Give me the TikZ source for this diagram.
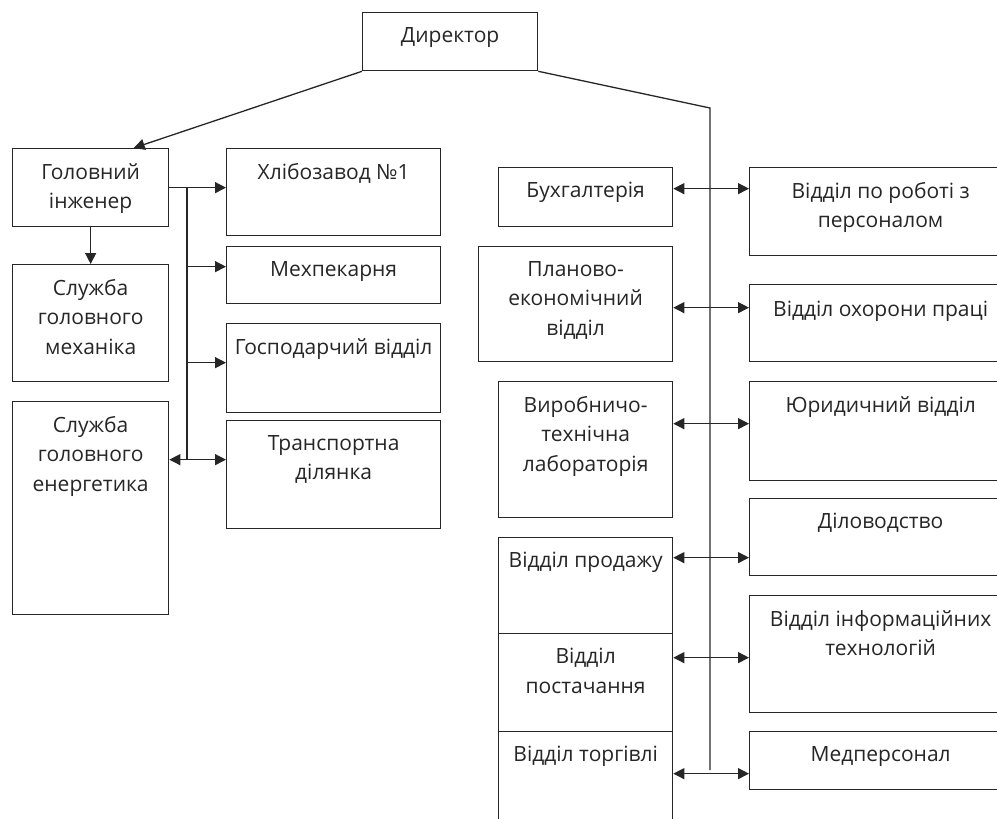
\documentclass[tikz,border=0pt]{standalone}
\usepackage{fontspec}
\setmainfont{Open Sans}
\usetikzlibrary{arrows.meta}
\usetikzlibrary{positioning}

\begin{document}
\begin{tikzpicture}[x=1pt, y=-1pt,
    box/.style={rectangle, draw=black!85, line width=1.3pt, anchor=north west, inner sep=0pt},
    lbl/.style={anchor=north, inner sep=0pt, yshift=-15pt, align=center, text=black!85, font=\fontsize{21}{29.5}\selectfont},
    arr/.style={line width=1.3pt, draw=black!85, -{Triangle[length=11pt,width=11pt]}},
    darr/.style={line width=1.3pt, draw=black!85, {Triangle[length=11pt,width=11pt]}-{Triangle[length=11pt,width=11pt]}},
    bus/.style={line width=1.3pt, draw=black!85}]
    \useasboundingbox (0,0) rectangle (997,819);
    % Define blocks
    \node [box, minimum width=175pt, minimum height=58pt, label={[lbl]north:Директор}] (dir) at (362,12) {};

    \node [box, minimum width=156pt, minimum height=78pt, label={[lbl]north:Головний\\інженер}] (eng) at (12,148) {};
    \node [box, minimum width=156pt, minimum height=117pt, label={[lbl]north:Служба\\головного\\механіка}] (mech) at (12,264) {};
    \node [box, minimum width=156pt, minimum height=213pt, label={[lbl]north:Служба\\головного\\енергетика}] (energ) at (12,401) {};

    \node [box, minimum width=214pt, minimum height=87pt, label={[lbl]north:Хлібозавод №1}] (hlib) at (226,148) {};
    \node [box, minimum width=214pt, minimum height=57pt, label={[lbl]north:Мехпекарня}] (mex) at (226,246) {};
    \node [box, minimum width=214pt, minimum height=89pt, label={[lbl]north:Господарчий відділ}] (gosp) at (226,323) {};
    \node [box, minimum width=214pt, minimum height=108pt, label={[lbl]north:Транспортна\\ділянка}] (trans) at (226,420) {};

    \node [box, minimum width=174pt, minimum height=59pt, label={[lbl]north:Бухгалтерія}] (buh) at (498,167) {};
    \node [box, minimum width=194pt, minimum height=115pt, label={[lbl]north:Планово-\\економічний\\відділ}] (plan) at (478,246) {};
    \node [box, minimum width=174pt, minimum height=136pt, label={[lbl]north:Виробничо-\\технічна\\лабораторія}] (vyr) at (498,381) {};
    \node [box, minimum width=174pt, minimum height=96pt, label={[lbl]north:Відділ продажу}] (prod) at (498,537) {};
    \node [box, minimum width=174pt, minimum height=98pt, label={[lbl]north:Відділ\\постачання}] (post) at (498,633) {};
    \node [box, minimum width=174pt, minimum height=100pt, label={[lbl]north:Відділ торгівлі}] (torg) at (498,731) {};

    \node [box, minimum width=262pt, minimum height=88pt, label={[lbl]north:Відділ по роботі з\\персоналом}] (pers) at (749,167) {};
    \node [box, minimum width=262pt, minimum height=77pt, label={[lbl, yshift=-2pt]north:Відділ охорони праці}] (ohor) at (749,284) {};
    \node [box, minimum width=262pt, minimum height=99pt, label={[lbl]north:Юридичний відділ}] (yur) at (749,381) {};
    \node [box, minimum width=262pt, minimum height=77pt, label={[lbl]north:Діловодство}] (dilo) at (749,498) {};
    \node [box, minimum width=262pt, minimum height=117pt, label={[lbl]north:Відділ інформаційних\\технологій}] (it) at (749,595) {};
    \node [box, minimum width=262pt, minimum height=58pt, label={[lbl]north:Медперсонал}] (med) at (749,731) {};

    \coordinate (lbusT) at (187,187);
    \coordinate (lbusB) at (187,459);
    \coordinate (rbusT) at (710,108);
    \coordinate (rbusB) at (710,770);

    % Define arrows
    \draw [arr] (dir.south west) -- ([xshift=43pt]eng.north);
    \draw [bus] (dir.south east) -- (rbusT) -- (rbusB);

    \draw [arr] (eng.south) -- (mech.north);
    \draw [arr] (eng.east) -- (eng.east -| hlib.west);
    \draw [bus] (lbusT) -- (lbusB);
    \draw [arr] ([yshift=8.5pt]mex.west -| lbusT) -- ([yshift=8.5pt]mex.west);
    \draw [arr] ([yshift=5.5pt]gosp.west -| lbusT) -- ([yshift=5.5pt]gosp.west);
    \draw [darr] ([yshift=48.5pt]energ.east) -- ([yshift=48.5pt]energ.east -| trans.west);

    \draw [darr] ([yshift=8.5pt]buh.east) -- ([yshift=8.5pt]buh.east -| pers.west);
    \draw [darr] ([yshift=-3.5pt]plan.east) -- ([yshift=-3.5pt]plan.east -| ohor.west);
    \draw [darr] ([yshift=26pt]vyr.east) -- ([yshift=26pt]vyr.east -| yur.west);
    \draw [darr] ([yshift=28pt]prod.east) -- ([yshift=28pt]prod.east -| dilo.west);
    \draw [darr] ([yshift=25pt]post.east) -- ([yshift=25pt]post.east -| it.west);
    \draw [darr] ([yshift=8pt]torg.east) -- ([yshift=8pt]torg.east -| med.west);
\end{tikzpicture}
\end{document}
